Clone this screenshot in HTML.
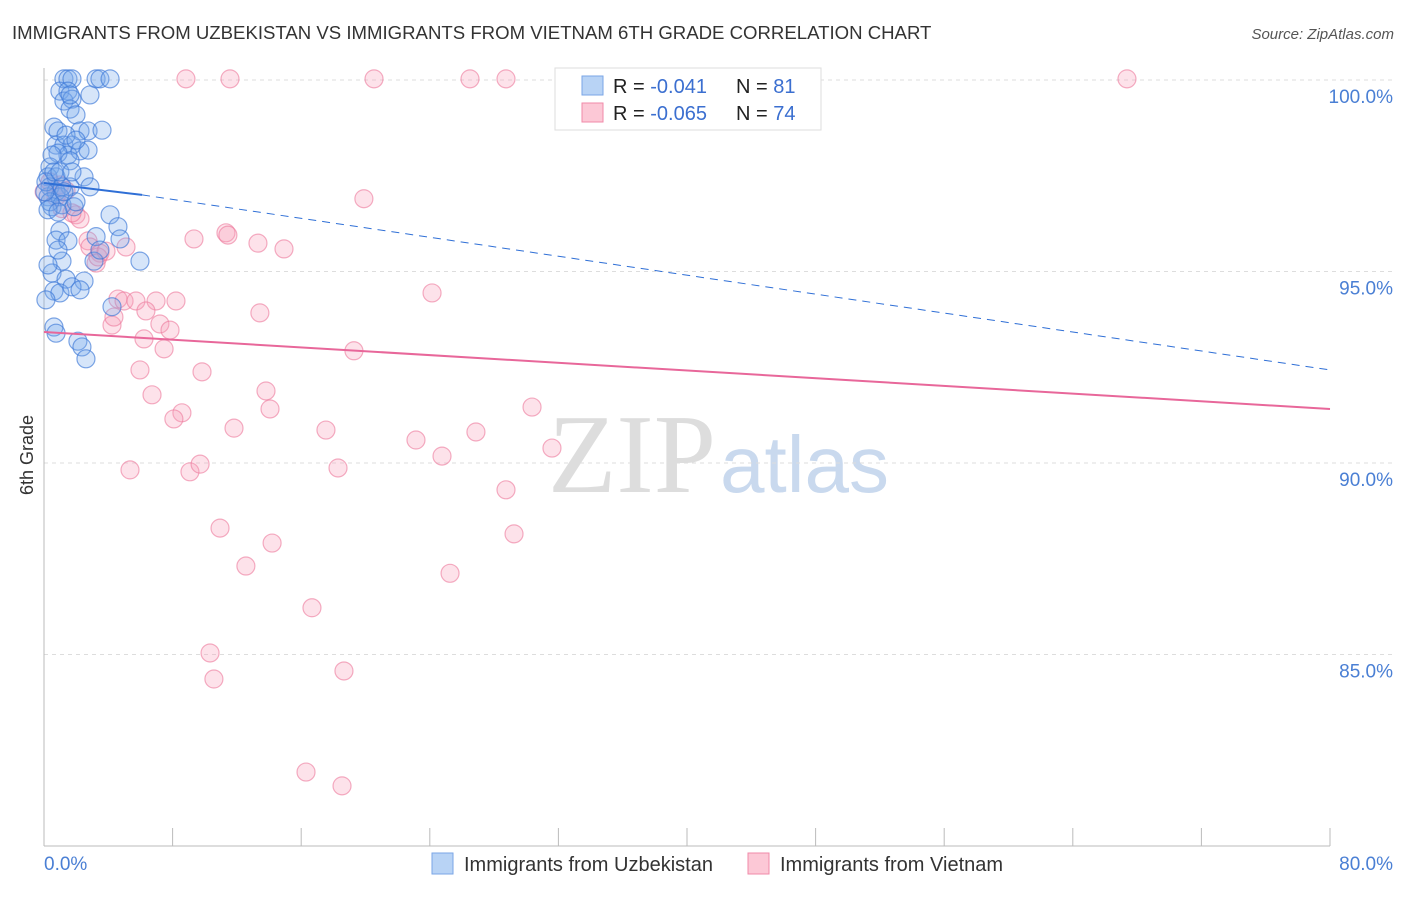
<!DOCTYPE html>
<html><head><meta charset="utf-8"><style>
body{margin:0;background:#fff;font-family:"Liberation Sans",sans-serif}
</style></head><body>
<svg width="1406" height="892" xmlns="http://www.w3.org/2000/svg" font-family="Liberation Sans, sans-serif">
<text x="12" y="39" font-size="18.6" fill="#333">IMMIGRANTS FROM UZBEKISTAN VS IMMIGRANTS FROM VIETNAM 6TH GRADE CORRELATION CHART</text>
<text x="1394" y="39" font-size="15" fill="#555" font-style="italic" text-anchor="end">Source: ZipAtlas.com</text>
<text x="716" y="492" font-size="112" text-anchor="end" fill="#ddd" font-family="Liberation Serif, serif">ZIP</text>
<text x="720" y="492" font-size="80" fill="#c9d9ee">atlas</text>
<g id="grid"></g>
<line x1="44" y1="68" x2="44" y2="846" stroke="#bbb"/>
<line x1="44" y1="846" x2="1330" y2="846" stroke="#bbb"/>
<g id="xticks"></g>
<text transform="translate(33,455) rotate(-90)" font-size="18" fill="#333" text-anchor="middle">6th Grade</text>
<text x="44" y="870" font-size="19" fill="#4a7fd4">0.0%</text>
<text x="1393" y="870" font-size="19" fill="#4a7fd4" text-anchor="end">80.0%</text>
<g id="pts"></g>
<g id="trends"></g>
<g>
<rect x="555" y="68" width="266" height="62" fill="#fff" stroke="#ddd"/>
<rect x="582" y="76" width="21" height="19" fill="#b8d3f5" stroke="#7aa6e6"/>
<rect x="582" y="103" width="21" height="19" fill="#fcc8d6" stroke="#f08aa8"/>
<text x="613" y="93" font-size="20" fill="#222">R = <tspan fill="#3b6fd0"> -0.041</tspan><tspan x="736">N = </tspan><tspan fill="#3b6fd0"> 81</tspan></text>
<text x="613" y="120" font-size="20" fill="#222">R = <tspan fill="#3b6fd0">-0.065</tspan><tspan x="736">N = </tspan><tspan fill="#3b6fd0"> 74</tspan></text>
</g>
<g>
<rect x="432" y="853" width="21" height="21" fill="#b8d3f5" stroke="#7aa6e6"/>
<text x="464" y="871" font-size="20" fill="#333">Immigrants from Uzbekistan</text>
<rect x="748" y="853" width="21" height="21" fill="#fcc8d6" stroke="#f08aa8"/>
<text x="780" y="871" font-size="20" fill="#333">Immigrants from Vietnam</text>
</g>
</svg>
<script>
const yTicks=[100,95,90,85];
const yTickLabels=["100.0%","95.0%","90.0%","85.0%"];
const xTicks=[0,8,16,24,32,40,48,56,64,72,80];
const blueX=[1.24,1.49,1.74,3.24,3.48,4.11,0.99,1.49,2.86,1.24,1.74,1.62,1.99,0.62,0.87,2.24,2.74,3.61,0.75,1.24,1.74,1.49,2.24,0.87,1.62,0.37,0.25,0.75,2.49,2.86,1.62,0.37,0.75,0.25,0.99,0.50,1.12,1.87,4.11,4.60,0.99,3.24,4.73,0.75,1.49,1.12,3.11,5.97,0.50,1.37,2.49,0.62,0.99,1.74,4.23,0.62,0.75,2.11,2.36,2.61,0.37,0.12,0.62,1.12,0.25,0.87,1.99,0.05,2.74,1.37,1.99,0.50,0.99,1.24,1.74,0.87,0.25,2.24,3.48,0.12,1.62];
const blueY=[100.03,100.03,100.03,100.03,100.03,100.03,99.71,99.71,99.61,99.45,99.50,99.24,99.09,98.77,98.67,98.67,98.67,98.69,98.30,98.30,98.30,98.04,98.15,98.09,97.89,97.73,97.47,97.47,97.47,97.21,97.21,97.21,97.08,96.95,96.95,96.69,96.74,96.69,96.48,96.17,96.06,95.91,95.85,95.82,95.80,95.27,95.27,95.27,94.96,94.80,94.75,94.49,94.44,94.60,94.08,93.55,93.39,93.18,93.03,92.72,96.82,97.34,97.60,97.21,96.61,96.55,96.82,97.08,98.17,98.56,98.43,98.04,97.60,97.08,97.60,95.56,95.17,94.52,95.56,94.26,99.61];
const pinkX=[8.83,11.57,20.53,26.5,28.74,43.3,67.37,19.9,0.99,1.37,0.75,1.12,1.99,2.24,1.74,11.32,11.44,9.33,13.31,14.93,2.74,2.86,3.48,5.1,3.24,3.36,3.86,24.14,4.6,4.98,5.72,6.97,8.21,6.34,13.43,7.21,7.84,4.23,4.35,6.22,7.47,19.28,5.97,9.83,6.72,13.81,14.06,8.58,8.08,30.36,11.82,17.54,26.87,23.14,24.76,31.6,5.35,9.08,9.71,18.29,28.74,10.95,29.24,14.19,12.56,25.26,16.67,10.33,10.57,18.66,16.3,18.54,0.01,0.37];
const pinkY=[100.03,100.03,100.03,100.03,100.03,100.03,100.03,96.9,97.26,97.11,96.95,96.64,96.48,96.37,96.53,96.01,95.95,95.85,95.74,95.59,95.80,95.64,95.48,95.64,95.22,95.38,95.53,94.44,94.28,94.23,94.23,94.23,94.23,93.97,93.92,93.63,93.47,93.6,93.81,93.24,92.98,92.93,92.43,92.38,91.78,91.88,91.41,91.31,91.15,91.46,90.91,90.86,90.81,90.6,90.18,90.39,89.82,89.77,89.97,89.87,89.3,88.3,88.15,87.91,87.31,87.12,86.22,85.04,84.36,84.57,81.93,81.57,97.08,97.34];
const blueTrendX=[0,6.1,80];const blueTrendY=[97.31,97.0,92.43];
const pinkTrendX=[0,80];const pinkTrendY=[93.42,91.41];
const NS="http://www.w3.org/2000/svg";
const sx=v=>44+v*16.075;
const sy=v=>80+(100-v)*38.3;
function mk(t,a,p){const e=document.createElementNS(NS,t);for(const k in a)e.setAttribute(k,a[k]);p.appendChild(e);return e;}
const grid=document.getElementById('grid');
yTicks.forEach((t,i)=>{
const l=mk('line',{x1:44,x2:1394,y1:sy(t),y2:sy(t),stroke:'#ddd','stroke-dasharray':'4,4'},grid);


const tx=mk('text',{x:1393,y:sy(t)+23,'font-size':19,fill:'#4a7fd4','text-anchor':'end'},grid);
tx.textContent=yTickLabels[i];


});
const xt=document.getElementById('xticks');
xTicks.forEach(t=>{
const l=mk('line',{x1:sx(t),x2:sx(t),y1:828,y2:846,stroke:'#bbb'},xt);


});
const pts=document.getElementById('pts');
pinkX.forEach((x,i)=>{
const c=mk('circle',{cx:sx(x),cy:sy(pinkY[i]),r:9,fill:'rgba(248,160,185,0.3)',stroke:'rgba(236,120,155,0.6)','stroke-width':1.2},pts);


});
blueX.forEach((x,i)=>{
const c=mk('circle',{cx:sx(x),cy:sy(blueY[i]),r:9,fill:'rgba(120,170,235,0.3)',stroke:'rgba(60,120,215,0.65)','stroke-width':1.2},pts);


});
const tr=document.getElementById('trends');
let l=mk('line',{x1:sx(blueTrendX[0]),y1:sy(blueTrendY[0]),x2:sx(blueTrendX[1]),y2:sy(blueTrendY[1]),stroke:'#2f6fd6','stroke-width':2},tr);


l=mk('line',{x1:sx(blueTrendX[1]),y1:sy(blueTrendY[1]),x2:sx(blueTrendX[2]),y2:sy(blueTrendY[2]),stroke:'#2f6fd6','stroke-width':1,'stroke-dasharray':'8,6'},tr);


l=mk('line',{x1:sx(pinkTrendX[0]),y1:sy(pinkTrendY[0]),x2:sx(pinkTrendX[1]),y2:sy(pinkTrendY[1]),stroke:'#e8679a','stroke-width':2},tr);


</script>
</body></html>
